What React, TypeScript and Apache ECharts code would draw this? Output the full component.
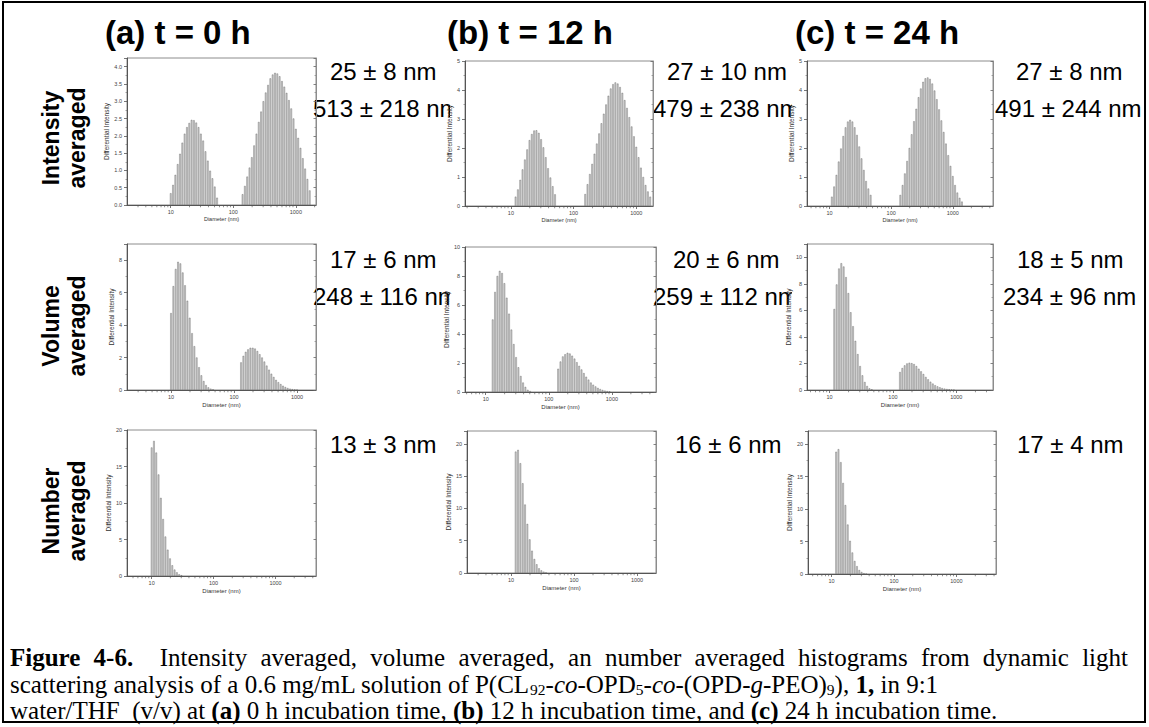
import React, { useEffect, useRef } from "react";
import * as echarts from "echarts";

// Instrument size-bin centres (nm)
const BINS_NM = [10.0, 10.89, 11.86, 12.92, 14.07, 15.32, 16.68, 18.17, 19.79, 21.54, 23.46, 25.55, 27.83, 30.3, 33.0, 35.94, 39.14, 42.62, 46.42, 50.55, 55.05, 59.95, 65.29, 71.1, 77.43, 84.33, 91.83, 100.0, 108.9, 118.6, 129.2, 140.7, 153.2, 166.8, 181.7, 197.9, 215.4, 234.6, 255.5, 278.3, 303.0, 330.0, 359.4, 391.4, 426.2, 464.2, 505.5, 550.5, 599.5, 652.9, 711.0, 774.3, 843.3, 918.3, 1000, 1089, 1186, 1292, 1407, 1532, 1668, 1817, 1979];

// Intensity averaged
const INT_0H_P1_START = 0;
const INT_0H_P1 = [0.34, 0.58, 0.87, 1.18, 1.48, 1.8, 2.06, 2.25, 2.37, 2.46, 2.45, 2.38, 2.25, 2.06, 1.86, 1.55, 1.28, 0.99, 0.77, 0.53, 0.21];
const INT_0H_P2_START = 31;
const INT_0H_P2 = [0.31, 0.55, 0.82, 1.08, 1.38, 1.72, 2.06, 2.4, 2.7, 3.0, 3.25, 3.47, 3.66, 3.77, 3.82, 3.8, 3.72, 3.58, 3.42, 3.24, 3.03, 2.79, 2.5, 2.2, 1.94, 1.65, 1.35, 1.05, 0.75, 0.42];
const INT_12H_P1_START = 2;
const INT_12H_P1 = [0.32, 0.57, 0.9, 1.26, 1.6, 1.95, 2.27, 2.48, 2.6, 2.61, 2.52, 2.3, 2.02, 1.68, 1.3, 0.98, 0.68, 0.4];
const INT_12H_P2_START = 32;
const INT_12H_P2 = [0.41, 0.75, 1.1, 1.45, 1.8, 2.15, 2.5, 2.85, 3.18, 3.5, 3.8, 4.05, 4.2, 4.26, 4.22, 4.1, 3.9, 3.65, 3.38, 3.06, 2.74, 2.4, 2.04, 1.68, 1.32, 1.0, 0.72, 0.5, 0.32];
const INT_24H_P1_START = 1;
const INT_24H_P1 = [0.32, 0.67, 1.07, 1.53, 1.98, 2.41, 2.71, 2.91, 2.97, 2.91, 2.71, 2.45, 2.05, 1.64, 1.24, 0.86, 0.6, 0.38];
const INT_24H_P2_START = 31;
const INT_24H_P2 = [0.38, 0.72, 1.12, 1.55, 2.0, 2.47, 2.92, 3.35, 3.75, 4.05, 4.28, 4.4, 4.43, 4.38, 4.22, 3.98, 3.68, 3.33, 2.95, 2.55, 2.15, 1.75, 1.38, 1.03, 0.72, 0.46, 0.28, 0.15];

// Volume averaged
const VOL_0H_P1_START = 0;
const VOL_0H_P1 = [4.74, 6.4, 7.46, 7.9, 7.8, 7.24, 6.45, 5.5, 4.45, 3.5, 2.7, 2.0, 1.4, 0.9, 0.55, 0.3, 0.16, 0.08, 0.04];
const VOL_0H_P2_START = 30;
const VOL_0H_P2 = [1.7, 2.1, 2.35, 2.5, 2.6, 2.6, 2.55, 2.4, 2.2, 2.0, 1.75, 1.5, 1.25, 1.0, 0.8, 0.62, 0.48, 0.36, 0.26, 0.18, 0.12, 0.08, 0.05, 0.03, 0.02];
const VOL_12H_P1_START = 3;
const VOL_12H_P1 = [5.0, 6.9, 8.0, 8.35, 8.2, 7.5, 6.5, 5.4, 4.3, 3.3, 2.4, 1.7, 1.1, 0.65, 0.35, 0.15, 0.06];
const VOL_12H_P2_START = 31;
const VOL_12H_P2 = [1.6, 2.1, 2.45, 2.6, 2.7, 2.65, 2.5, 2.3, 2.05, 1.8, 1.55, 1.3, 1.05, 0.85, 0.65, 0.5, 0.38, 0.28, 0.2, 0.14, 0.09, 0.06, 0.04];
const VOL_24H_P1_START = 2;
const VOL_24H_P1 = [6.1, 7.95, 9.15, 9.55, 9.3, 8.5, 7.3, 5.85, 4.8, 3.7, 2.7, 1.8, 1.1, 0.6, 0.3, 0.12, 0.05];
const VOL_24H_P2_START = 30;
const VOL_24H_P2 = [1.35, 1.65, 1.85, 2.0, 2.05, 2.02, 1.95, 1.8, 1.6, 1.4, 1.2, 0.98, 0.8, 0.62, 0.48, 0.36, 0.27, 0.2, 0.14, 0.1, 0.07, 0.05, 0.03, 0.02];

// Number averaged
const NUM_0H_START = 0;
const NUM_0H = [17.6, 18.5, 16.9, 13.9, 10.7, 7.8, 5.4, 3.6, 2.4, 1.46, 0.87, 0.5, 0.23, 0.1];
const NUM_12H_START = 2;
const NUM_12H = [18.8, 19.07, 17.0, 13.9, 10.6, 7.6, 5.2, 3.45, 2.16, 1.34, 0.72, 0.4, 0.2, 0.08];
const NUM_24H_START = 2;
const NUM_24H = [18.8, 19.2, 17.2, 14.0, 10.6, 7.6, 5.1, 3.3, 2.0, 1.2, 0.6, 0.3, 0.12, 0.05];

// Axis settings per panel (row-major: intensity a,b,c / volume a,b,c / number a,b,c)
const X_MIN = [2, 1.85, 4.3, 2, 4.7, 4.4, 4, 2, 4.2];
const X_MAX = [2100, 1850, 4500, 2000, 5000, 3800, 4500, 2000, 4300];
const Y_MAX = [4.25, 5, 5, 9, 10, 11, 20, 22, 22];
const Y_STEP = [0.5, 1, 1, 2, 2, 2, 5, 5, 5];
const Y_DECIMALS = [1, 0, 0, 0, 0, 0, 0, 0, 0];
const MINOR_TICKS_NM = [2, 3, 4, 5, 6, 7, 8, 9, 20, 30, 40, 50, 60, 70, 80, 90, 200, 300, 400, 500, 600, 700, 800, 900, 2000, 3000, 4000, 5000];

const COLUMN_TITLES = ["(a) t = 0 h", "(b) t = 12 h", "(c) t = 24 h"];
const ROW_TITLES = [["Intensity", "averaged"], ["Volume", "averaged"], ["Number", "averaged"]];
const SIZE_LABELS = [
  ["25 ± 8 nm", "513 ± 218 nm"], ["27 ± 10 nm", "479 ± 238 nm"], ["27 ± 8 nm", "491 ± 244 nm"],
  ["17 ± 6 nm", "248 ± 116 nm"], ["20 ± 6 nm", "259 ± 112 nm"], ["18 ± 5 nm", "234 ± 96 nm"],
  ["13 ± 3 nm"], ["16 ± 6 nm"], ["17 ± 4 nm"],
];
const X_NAME = "Diameter (nm)";
const Y_NAME = "Differential Intensity";
const CAPTION_LINE1_BOLD = ["Figure", "4-6."];
const CAPTION_LINE1_TEXT = "Intensity averaged, volume averaged, an number averaged histograms from dynamic light";
const CAPTION_LINE2 = "scattering analysis of a 0.6 mg/mL solution of P(CL{s|92}-{i|co}-OPD{s|5}-{i|co}-(OPD-{i|g}-PEO){s|9}), {b|1,} in 9:1";
const CAPTION_LINE3 = "water/THF  (v/v) at {b|(a)} 0 h incubation time, {b|(b)} 12 h incubation time, and {b|(c)} 24 h incubation time.";

const PEAKS: [number, number[]][][] = [
  [[INT_0H_P1_START, INT_0H_P1], [INT_0H_P2_START, INT_0H_P2]],
  [[INT_12H_P1_START, INT_12H_P1], [INT_12H_P2_START, INT_12H_P2]],
  [[INT_24H_P1_START, INT_24H_P1], [INT_24H_P2_START, INT_24H_P2]],
  [[VOL_0H_P1_START, VOL_0H_P1], [VOL_0H_P2_START, VOL_0H_P2]],
  [[VOL_12H_P1_START, VOL_12H_P1], [VOL_12H_P2_START, VOL_12H_P2]],
  [[VOL_24H_P1_START, VOL_24H_P1], [VOL_24H_P2_START, VOL_24H_P2]],
  [[NUM_0H_START, NUM_0H]],
  [[NUM_12H_START, NUM_12H]],
  [[NUM_24H_START, NUM_24H]],
];

const SANS = "'Liberation Sans', Arial, sans-serif";
const SERIF = "'Liberation Serif', 'Times New Roman', serif";

// Layout (pixels): [left, top, right, bottom] of each plot frame
const BOXES = [
  [127, 58, 316, 205], [465, 61, 653, 206], [807, 61, 993, 206],
  [127, 244, 316, 390], [465, 247, 656, 392], [807, 244, 993, 390],
  [127, 430, 316, 576], [467, 431, 656, 573], [808, 431, 996, 574],
];
const Y_NAME_GAP = [12, 8, 11, 10, 9, 11, 12, 12, 11];
const X_NAME_GAP = [11, 11, 11, 12, 12, 12, 12, 12, 12];
const ANN_POS = [
  [[330, 71], [313, 108]], [[667, 71], [653, 108]], [[1016, 71], [995, 108]],
  [[330, 259], [313, 296]], [[673, 259], [653, 296]], [[1017, 259], [1003, 296]],
  [[330, 444]], [[675, 444]], [[1017, 444]],
];

function measure(text: string, font: string) {
  const c = document.createElement("canvas").getContext("2d");
  if (!c) return text.length * 10;
  c.font = font;
  return c.measureText(text).width;
}

function buildOption() {
  const grids: any[] = [];
  const xAxes: any[] = [];
  const yAxes: any[] = [];
  const series: any[] = [];
  const n = BOXES.length;

  for (let i = 0; i < n; i++) {
    const [l, t, r, b] = BOXES[i];
    grids.push({
      left: l, top: t, width: r - l, height: b - t,
      show: true, borderColor: "#8c8c8c", borderWidth: 1,
      backgroundColor: "transparent", containLabel: false, outerBoundsMode: "none",
    });
    xAxes.push({
      type: "log", logBase: 10, gridIndex: i, min: X_MIN[i], max: X_MAX[i],
      axisLine: { show: true, onZero: false, lineStyle: { color: "#555", width: 1 } },
      axisTick: { show: true, length: 3, lineStyle: { color: "#555", width: 0.8 } },
      minorTick: { show: false },
      splitLine: { show: false },
      axisLabel: {
        fontSize: 5.5, color: "#444", margin: 4, fontFamily: SANS,
        showMinLabel: false, showMaxLabel: false,
        formatter: (v: number) => String(Math.round(v)),
      },
      name: X_NAME, nameLocation: "middle", nameGap: X_NAME_GAP[i],
      nameTextStyle: { fontSize: i < 3 ? 5.5 : 6, color: "#333", fontFamily: SANS },
      z: 3,
    });
  }
  for (let i = 0; i < n; i++) {
    const hideMax = Math.abs(Y_MAX[i] / Y_STEP[i] - Math.round(Y_MAX[i] / Y_STEP[i])) > 1e-6;
    yAxes.push({
      type: "value", gridIndex: i, min: 0, max: Y_MAX[i], interval: Y_STEP[i], position: "left",
      axisLine: { show: true, onZero: false, lineStyle: { color: "#555", width: 1 } },
      axisTick: { show: true, length: 3, lineStyle: { color: "#555", width: 0.8 } },
      minorTick: { show: true, splitNumber: 2, length: 1.5, lineStyle: { color: "#666", width: 0.6 } },
      splitLine: { show: false },
      axisLabel: {
        fontSize: 5.5, color: "#444", margin: 5, fontFamily: SANS,
        showMaxLabel: !hideMax,
        formatter: (v: number) => v.toFixed(Y_DECIMALS[i]),
      },
      name: Y_NAME, nameLocation: "middle", nameGap: Y_NAME_GAP[i],
      nameTextStyle: { fontSize: 6.5, color: "#333", fontFamily: SANS },
      z: 3,
    });
  }
  for (let i = 0; i < n; i++) {
    yAxes.push({
      type: "value", gridIndex: i, min: 0, max: Y_MAX[i], interval: Y_STEP[i], position: "right",
      axisLine: { show: true, onZero: false, lineStyle: { color: "#8c8c8c", width: 1 } },
      axisTick: { show: true, inside: true, length: 2.5, lineStyle: { color: "#666", width: 0.8 } },
      minorTick: { show: true, splitNumber: 2, length: 1.5, lineStyle: { color: "#777", width: 0.6 } },
      splitLine: { show: false },
      axisLabel: { show: false },
      z: 3,
    });
  }
  for (let i = 0; i < n; i++) {
    const data: number[][] = [];
    PEAKS[i].forEach(([start, vals]) => {
      vals.forEach((v, k) => data.push([BINS_NM[start + k], v]));
    });
    series.push({
      type: "bar", xAxisIndex: i, yAxisIndex: i, data, barWidth: 1.5,
      itemStyle: { color: "#d2d2d2", borderColor: "#4a4a4a", borderWidth: 0.35 },
      silent: true, z: 2,
    });
    const ticks = MINOR_TICKS_NM.filter((v) => v > X_MIN[i] && v < X_MAX[i]).map((v) => [v, 0]);
    series.push({
      type: "scatter", xAxisIndex: i, yAxisIndex: i, data: ticks,
      symbol: "rect", symbolSize: [0.8, 2.2], symbolOffset: [0, 1.1],
      itemStyle: { color: "#555" }, silent: true, clip: false, z: 4,
    });
  }

  const graphics: any[] = [];
  graphics.push({
    type: "rect", shape: { x: 3, y: 2, width: 1142, height: 720 },
    style: { fill: "none", stroke: "#000", lineWidth: 2 }, z: 0, silent: true,
  });
  const titleX = [105, 447, 795];
  COLUMN_TITLES.forEach((t, c) => {
    graphics.push({
      type: "text", x: titleX[c], y: 32, z: 1,
      style: { text: t, fontSize: 33, fontWeight: "bold", fontFamily: SANS, fill: "#000", align: "left", verticalAlign: "middle" },
    });
  });
  const rowY = [138, 326, 511];
  ROW_TITLES.forEach((lines, r) => {
    lines.forEach((txt, k) => {
      graphics.push({
        type: "text", x: k === 0 ? 51 : 77, y: rowY[r], rotation: Math.PI / 2, z: 1,
        style: { text: txt, fontSize: 23, fontWeight: "bold", fontFamily: SANS, fill: "#000", align: "center", verticalAlign: "middle" },
      });
    });
  });
  SIZE_LABELS.forEach((lines, i) => {
    lines.forEach((txt, k) => {
      const [x, y] = ANN_POS[i][k];
      graphics.push({
        type: "text", x, y, z: 1,
        style: { text: txt, fontSize: 24, fontFamily: SANS, fill: "#000", align: "left", verticalAlign: "middle" },
      });
    });
  });
  // the neighbouring panels sit on top of the end of the long labels
  [[450, 95], [450, 283], [792, 95], [792, 283]].forEach(([x, y]) => {
    graphics.push({
      type: "rect", shape: { x, y, width: 12, height: 27 }, z: 2, silent: true,
      style: { fill: "#fff", stroke: "none" },
    });
  });

  // caption
  const capSize = 25;
  const capLeft = 10;
  const capRight = 1128;
  const capY = [657, 684, 710];
  const fontReg = `${capSize}px 'Liberation Serif'`;
  const fontBold = `bold ${capSize}px 'Liberation Serif'`;
  // line 1 is fully justified: place its words with evenly spread gaps
  const words = [
    ...CAPTION_LINE1_BOLD.map((w) => ({ w, bold: true, gapBefore: 1 })),
    ...CAPTION_LINE1_TEXT.split(" ").map((w, k) => ({ w, bold: false, gapBefore: k === 0 ? 2 : 1 })),
  ];
  words[0].gapBefore = 0;
  const widths = words.map((o) => measure(o.w, o.bold ? fontBold : fontReg));
  const totalW = widths.reduce((a, b) => a + b, 0);
  const gapUnits = words.reduce((a, o) => a + o.gapBefore, 0);
  const gap = (capRight - capLeft - totalW) / gapUnits;
  let cx = capLeft;
  words.forEach((o, k) => {
    cx += o.gapBefore * gap;
    graphics.push({
      type: "text", x: cx, y: capY[0], z: 1,
      style: {
        text: o.w, fontSize: capSize, fontFamily: SERIF, fontWeight: o.bold ? "bold" : "normal",
        fill: "#000", align: "left", verticalAlign: "middle",
      },
    });
    cx += widths[k];
  });
  const rich = {
    b: { fontSize: capSize, fontWeight: "bold", fontFamily: SERIF, lineHeight: 27, fill: "#000" },
    i: { fontSize: capSize, fontStyle: "italic", fontFamily: SERIF, lineHeight: 27, fill: "#000" },
    s: { fontSize: 15.5, fontFamily: SERIF, lineHeight: 15, verticalAlign: "bottom", fill: "#000" },
  };
  [CAPTION_LINE2, CAPTION_LINE3].forEach((txt, k) => {
    graphics.push({
      type: "text", x: capLeft, y: capY[k + 1], z: 1,
      style: {
        text: txt, fontSize: capSize, fontFamily: SERIF, fill: "#000", lineHeight: 27,
        align: "left", verticalAlign: "middle", rich,
      },
    });
  });

  return {
    animation: false,
    backgroundColor: "#fff",
    textStyle: { fontFamily: SANS },
    grid: grids,
    xAxis: xAxes,
    yAxis: yAxes,
    series,
    graphic: { elements: graphics },
  };
}

export default function App() {
  const ref = useRef<HTMLDivElement>(null);
  useEffect(() => {
    if (!ref.current) return;
    const chart = echarts.init(ref.current, undefined, { renderer: "svg" });
    chart.setOption(buildOption() as any);
    return () => chart.dispose();
  }, []);
  return (
    <div
      ref={ref}
      style={{ position: "fixed", left: 0, top: 0, width: 1149, height: 727, background: "#fff" }}
    />
  );
}
